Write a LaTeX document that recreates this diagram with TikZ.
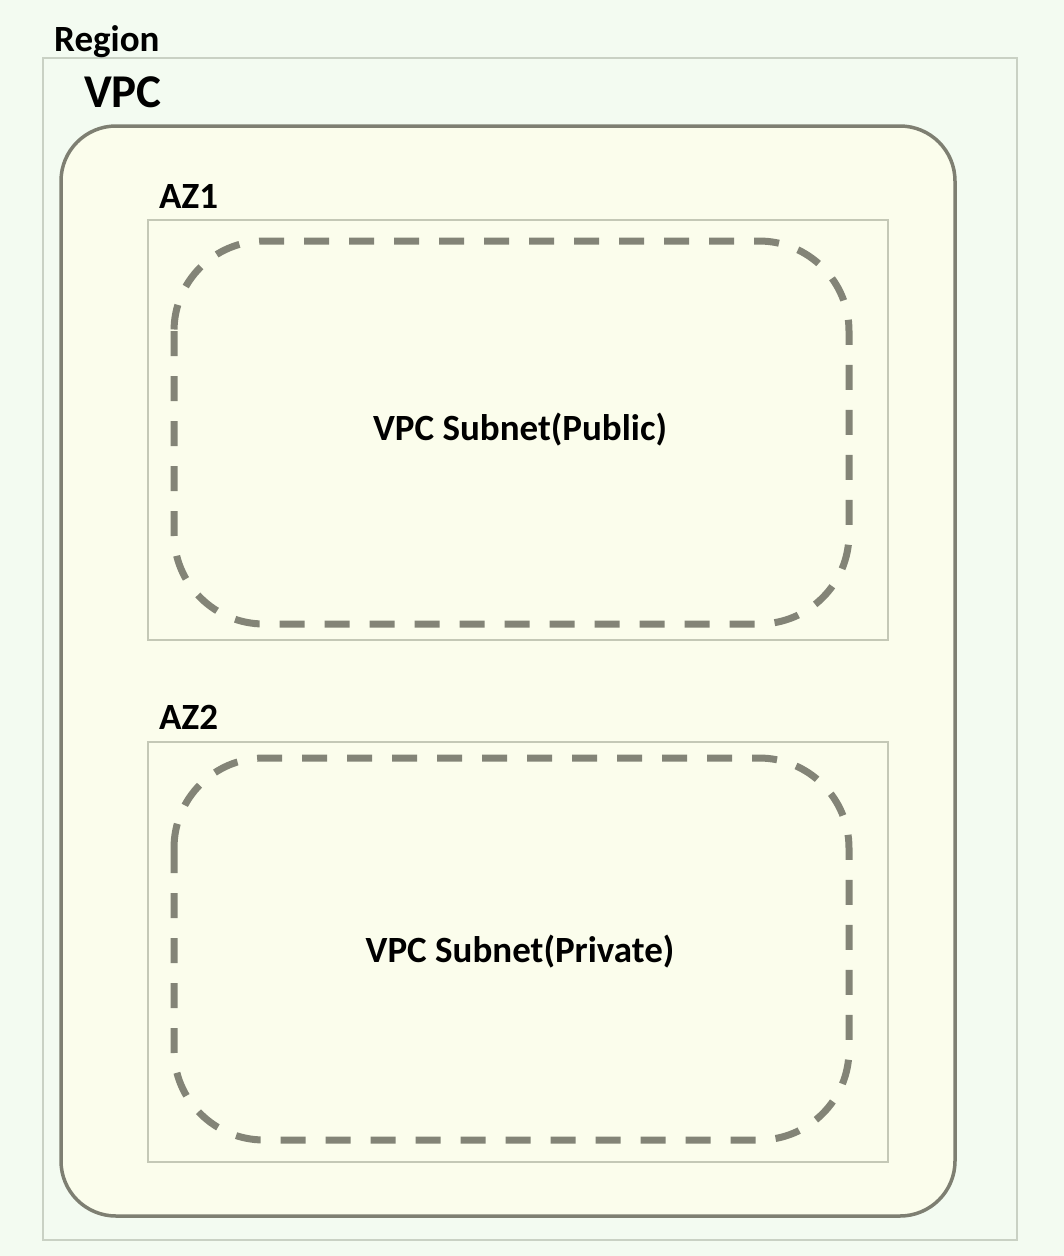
\documentclass[tikz,border=0pt]{standalone}
\usepackage{fontspec}
\setmainfont{Carlito}
\definecolor{bgc}{HTML}{F3FBF1}
\definecolor{regionline}{HTML}{C9D1C4}
\definecolor{vpcfill}{HTML}{FBFDEC}
\definecolor{vpcline}{HTML}{7E7F72}
\definecolor{azline}{HTML}{C4C8B6}
\definecolor{subline}{HTML}{838477}
\tikzset{
  x=1pt,y=-1pt,
  lbl/.style={inner sep=0pt,anchor=base west,font=\bfseries},
  regionbox/.style={draw=regionline,line width=1.5pt},
  vpcbox/.style={draw=vpcline,fill=vpcfill,line width=3.5pt,rounded corners=55pt},
  azbox/.style={draw=azline,line width=1.5pt},
  subnetbox/.style={draw=subline,line width=7pt,rounded corners=90pt,dash pattern=on 25pt off 20pt},
}
\begin{document}
\begin{tikzpicture}
\fill[bgc] (0,0) rectangle (1064,1256);
\useasboundingbox (0,0) rectangle (1064,1256);
\draw[regionbox] (43,58) rectangle (1017,1240);
\node[lbl,font=\bfseries\fontsize{37}{44}\selectfont] (regionlbl) at (54,51) {Region};
\node[lbl,font=\bfseries\fontsize{47}{54}\selectfont] (vpclbl) at (84,107) {VPC};
\draw[vpcbox] (61,126) rectangle (955,1216);
\node[lbl,font=\bfseries\fontsize{37}{44}\selectfont] (az1lbl) at (159,208) {AZ1};
\draw[azbox] (148,220) rectangle (888,640);
\node[lbl,font=\bfseries\fontsize{37}{44}\selectfont] (az2lbl) at (159,729) {AZ2};
\draw[azbox] (148,742) rectangle (888,1162);
\draw[subnetbox] (174,241) rectangle (849,624);
\draw[subnetbox] (174,758) rectangle (849,1140);
\node[inner sep=0pt,font=\bfseries\fontsize{37}{44}\selectfont] (pub) at (520,430) {VPC Subnet(Public)};
\node[inner sep=0pt,font=\bfseries\fontsize{37}{44}\selectfont] (priv) at (520,952) {VPC Subnet(Private)};
\end{tikzpicture}
\end{document}
